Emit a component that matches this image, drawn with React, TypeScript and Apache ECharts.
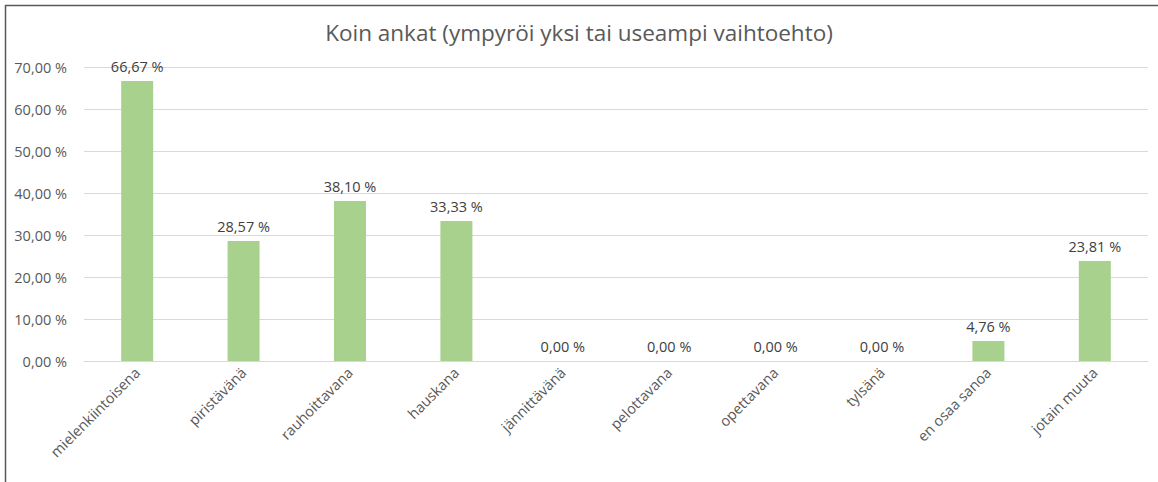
import React, { useEffect, useRef } from "react";
import * as echarts from "echarts";

const categories = [
  "mielenkiintoisena",
  "piristävänä",
  "rauhoittavana",
  "hauskana",
  "jännittävänä",
  "pelottavana",
  "opettavana",
  "tylsänä",
  "en osaa sanoa",
  "jotain muuta",
];
const values = [66.67, 28.57, 38.1, 33.33, 0, 0, 0, 0, 4.76, 23.81];
const titleText = "Koin ankat (ympyröi yksi tai useampi vaihtoehto)";

const fmt = (v: number) => v.toFixed(2).replace(".", ",") + " %";

export default function App() {
  const ref = useRef<HTMLDivElement>(null);
  useEffect(() => {
    const chart = echarts.init(ref.current!, undefined, { renderer: "svg" });
    const font = "Open Sans, Liberation Sans, sans-serif";
    chart.setOption({
      animation: false,
      backgroundColor: "#ffffff",
      textStyle: { fontFamily: font },
      title: {
        text: titleText,
        left: "center",
        top: 16,
        textStyle: { fontFamily: font, fontSize: 22.5, fontWeight: "normal", color: "#595959" },
      },
      graphic: [
        { type: "line", shape: { x1: 5, y1: 5.5, x2: 1158, y2: 5.5 }, style: { stroke: "#595959", lineWidth: 1.5 } },
        { type: "line", shape: { x1: 5.5, y1: 5, x2: 5.5, y2: 482 }, style: { stroke: "#595959", lineWidth: 1.5 } },
      ],
      grid: { left: 84, right: 10, top: 67, bottom: 121, containLabel: false },
      xAxis: {
        type: "category",
        data: categories,
        axisLine: { show: true, lineStyle: { color: "#d9d9d9" } },
        axisTick: { show: false },
        axisLabel: {
          rotate: 45,
          interval: 0,
          margin: 9,
          fontSize: 14.5,
          color: "#595959",
          fontFamily: font,
        },
      },
      yAxis: {
        type: "value",
        min: 0,
        max: 70,
        interval: 10,
        axisLine: { show: false },
        axisTick: { show: false },
        splitLine: { lineStyle: { color: "#d9d9d9" } },
        axisLabel: {
          formatter: (v: number) => fmt(v),
          fontSize: 14.5,
          color: "#595959",
          margin: 17,
          fontFamily: font,
        },
      },
      series: [
        {
          type: "bar",
          data: values,
          barWidth: 32,
          itemStyle: { color: "#A9D18E" },
          label: {
            show: true,
            position: "top",
            distance: 7,
            formatter: (p: any) => fmt(p.value),
            fontSize: 14.5,
            color: "#404040",
            fontFamily: font,
          },
        },
      ],
    });
    return () => chart.dispose();
  }, []);
  return (
    <div
      ref={ref}
      style={{ position: "fixed", left: 0, top: 0, width: 1158, height: 482, background: "#fff" }}
    />
  );
}
